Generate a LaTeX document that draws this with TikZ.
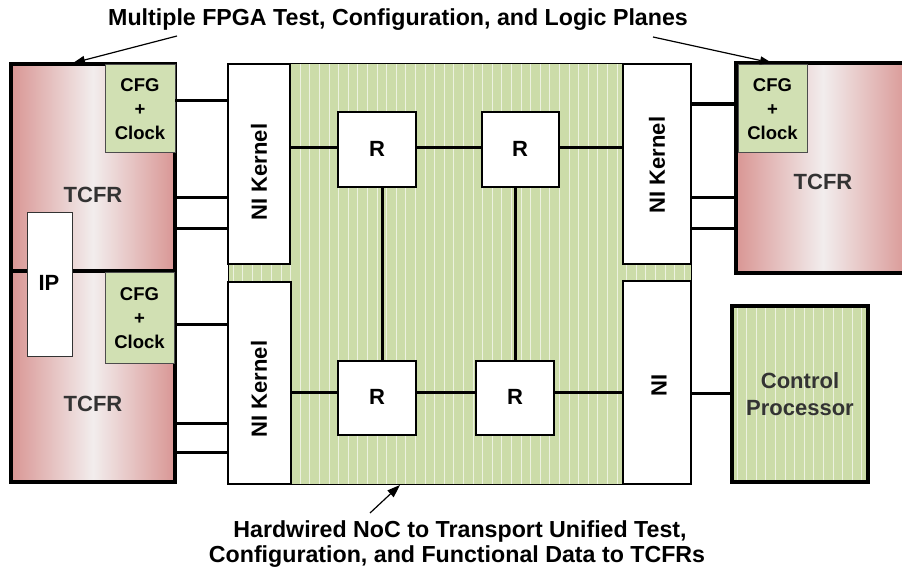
\documentclass[tikz,border=0pt]{standalone}
\usepackage{fontspec}
\setmainfont{Liberation Sans}
\usetikzlibrary{arrows.meta}
\definecolor{tred}{HTML}{D99694}
\definecolor{tmid}{HTML}{F2EDED}
\definecolor{gfill}{HTML}{CCDCA9}
\definecolor{cfgfill}{HTML}{D1E0B3}
\definecolor{txtgray}{HTML}{333333}
\tikzset{
  box/.style={inner sep=0pt, outer sep=0pt, anchor=north west},
  tcfr/.style={box, draw=black, line width=3.5pt, left color=tred, right color=tred, middle color=tmid},
  cfgbox/.style={box, draw=black!70, line width=1pt, fill=cfgfill},
  nibox/.style={box, draw=black, line width=1.8pt, fill=white},
  rbox/.style={box, draw=black, line width=1.8pt, fill=white},
  wire/.style={line width=3pt},
  callout/.style={line width=1.2pt, -{Triangle[length=12pt,width=8pt]}},
  lbl/.style={font=\fontsize{22}{24}\selectfont\bfseries},
  bigtxt/.style={anchor=base, font=\fontsize{23.2}{26}\selectfont\bfseries},
  cfgtxt/.style={font=\fontsize{18.5}{24}\selectfont\bfseries, align=center},
  stripe/.style={white, line width=0.9pt, opacity=0.65},
}
\begin{document}
\begin{tikzpicture}[x=1pt,y=-1pt]
\useasboundingbox (0,0) rectangle (902,569);

% NoC fabric
\node[box, fill=gfill, minimum width=463pt, minimum height=420pt] (noc) at (228,64) {};
\begin{scope}
  \clip (noc.north west) rectangle (noc.south east);
  \foreach \x in {233,242.6,...,700} \draw[stripe] (\x,60) -- (\x,490);
\end{scope}
\draw[line width=1pt] (noc.north west) rectangle (noc.south east);

% NI boxes
\node[nibox, minimum width=62pt, minimum height=200pt] (nik1) at (228,64) {};
\node[nibox, minimum width=63pt, minimum height=202pt] (nik2) at (228,282) {};
\node[nibox, minimum width=68pt, minimum height=200pt] (nik3) at (623,64) {};
\node[nibox, minimum width=68pt, minimum height=203pt] (ni4) at (623,281) {};
\node[lbl, rotate=90] at (259,172) {NI Kernel};
\node[lbl, rotate=90] at (259,389) {NI Kernel};
\node[lbl, rotate=90] at (657,165) {NI Kernel};
\node[lbl, rotate=90] at (659,385) {NI};

% routers
\node[rbox, minimum width=78pt, minimum height=75pt] (r1) at (338,112) {};
\node[rbox, minimum width=77pt, minimum height=75pt] (r2) at (482,112) {};
\node[rbox, minimum width=78pt, minimum height=74pt] (r3) at (338,361) {};
\node[rbox, minimum width=78pt, minimum height=74pt] (r4) at (476,361) {};
\node[lbl] at (377,149) {R};
\node[lbl] at (520,149) {R};
\node[lbl] at (377,397) {R};
\node[lbl] at (515,397) {R};

\draw[wire] (nik1.east |- 0,148) -- (r1.west |- 0,148);
\draw[wire] (r1.east |- 0,148) -- (r2.west |- 0,148);
\draw[wire] (r2.east |- 0,148) -- (nik3.west |- 0,148);
\draw[wire] (nik2.east |- 0,392) -- (r3.west |- 0,392);
\draw[wire] (r3.east |- 0,392) -- (r4.west |- 0,392);
\draw[wire] (r4.east |- 0,392) -- (ni4.west |- 0,392);
\draw[wire] (r1.south -| 382,0) -- (r3.north -| 382,0);
\draw[wire] (r2.south -| 515,0) -- (r4.north -| 515,0);

% left TCFRs
\node[tcfr, minimum width=164pt, minimum height=207pt] (tcfrA) at (11,64) {};
\node[tcfr, minimum width=164pt, minimum height=211pt] (tcfrB) at (11,271) {};
\node[cfgbox, minimum width=70pt, minimum height=88pt] (cfgA) at (105,65) {};
\node[cfgbox, minimum width=69pt, minimum height=90pt] (cfgB) at (105,273) {};
\node[cfgtxt] at (cfgA.center) {CFG\\+\\Clock};
\node[cfgtxt] at (cfgB.center) {CFG\\+\\Clock};
\node[lbl, text=txtgray] at (93,195) {TCFR};
\node[lbl, text=txtgray] at (93,404) {TCFR};
\node[box, draw=black!80, line width=1pt, fill=white, minimum width=45pt, minimum height=143pt] (ip) at (27,213) {};
\node[lbl] at (49,283) {IP};

\draw[wire] (tcfrA.east |- 0,101) -- (nik1.west |- 0,101);
\draw[wire] (tcfrA.east |- 0,198) -- (nik1.west |- 0,198);
\draw[wire] (tcfrA.east |- 0,229) -- (nik1.west |- 0,229);
\draw[wire] (tcfrB.east |- 0,324) -- (nik2.west |- 0,324);
\draw[wire] (tcfrB.east |- 0,423) -- (nik2.west |- 0,423);
\draw[wire] (tcfrB.east |- 0,452) -- (nik2.west |- 0,452);

% right TCFR
\node[tcfr, minimum width=174pt, minimum height=210pt] (tcfrC) at (736,63) {};
\node[cfgbox, minimum width=69pt, minimum height=88pt] (cfgC) at (738,65) {};
\node[cfgtxt] at (cfgC.center) {CFG\\+\\Clock};
\node[lbl, text=txtgray] at (823,182) {TCFR};
\draw[line width=3.5pt] (nik3.east |- 0,104) -- (tcfrC.west |- 0,104);
\draw[wire] (nik3.east |- 0,198) -- (tcfrC.west |- 0,198);
\draw[wire] (nik3.east |- 0,229) -- (tcfrC.west |- 0,229);

% control processor
\node[box, fill=gfill, minimum width=136pt, minimum height=176pt] (cp) at (732,306) {};
\begin{scope}
  \clip (cp.north west) rectangle (cp.south east);
  \foreach \x in {737,746.6,...,880} \draw[stripe] (\x,300) -- (\x,490);
\end{scope}
\draw[line width=3.5pt] (cp.north west) rectangle (cp.south east);
\node[lbl, text=txtgray, align=center, font=\fontsize{22}{27}\selectfont\bfseries] at (800,394) {Control\\Processor};
\draw[wire] (ni4.east |- 0,393) -- (cp.west |- 0,393);

% titles and callouts
\node[bigtxt] (title) at (398,26) {Multiple FPGA Test, Configuration, and Logic Planes};
\node[bigtxt] (cap1) at (460,537) {Hardwired NoC to Transport Unified Test,};
\node[bigtxt] (cap2) at (457,562) {Configuration, and Functional Data to TCFRs};

\coordinate (a1s) at (177,36);
\coordinate (a1e) at (73,63);
\coordinate (a2s) at (653,37);
\coordinate (a2e) at (772,63);
\coordinate (a3s) at (370,513);
\coordinate (a3e) at (400,485);
\draw[callout] (a1s) -- (a1e);
\draw[callout] (a2s) -- (a2e);
\draw[line width=1.2pt, -{Triangle[length=13pt,width=9pt]}] (a3s) -- (a3e);
\end{tikzpicture}
\end{document}
